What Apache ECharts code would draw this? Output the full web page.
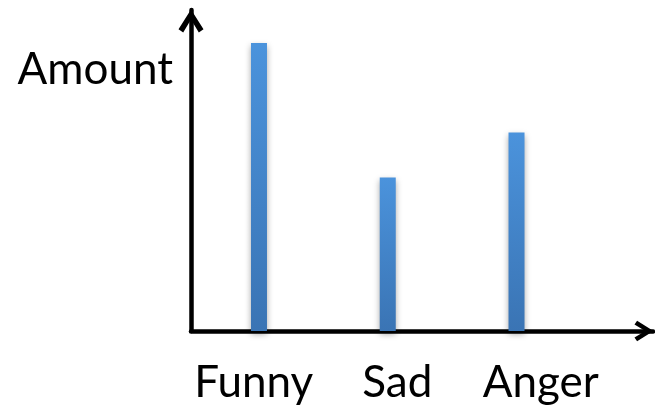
<!DOCTYPE html>
<html>
<head>
<meta charset="utf-8">
<script src="https://cdn.jsdelivr.net/npm/echarts@6/dist/echarts.min.js"></script>
<style>
html,body{margin:0;padding:0;background:#fff;}
#chart{width:655px;height:414px;}
</style>
</head>
<body>
<div id="chart"></div>
<script>
// ---- data ----
var categories = ['Funny', 'Sad', 'Anger'];
var amounts = [9.0, 4.8, 6.2];
var yAxisName = 'Amount';
var yMax = 10;

// ---- chart ----
var FONT = 'Lato';
var chevron = 'path://M12,0 L24,19 L19.5,22 L12,9.5 L4.5,22 L0,19 Z';

var chart = echarts.init(document.getElementById('chart'), null, {renderer: 'canvas'});
chart.setOption({
  backgroundColor: '#ffffff',
  animation: false,
  grid: [
    // frame with arrow axes
    {left: 191, right: 2, top: 10, bottom: 83},
    // bars
    {left: 194.6, right: 74.1, top: 11, bottom: 83},
    // category labels
    {left: 182, right: 42.5, top: 11, bottom: 83}
  ],
  xAxis: [
    {
      gridIndex: 0, type: 'value', min: 0, max: 1,
      axisLine: {show: true, lineStyle: {color: '#000', width: 4.5},
        symbol: ['none', chevron], symbolSize: [26, 19], symbolOffset: [0, -9]},
      axisTick: {show: false}, axisLabel: {show: false}, splitLine: {show: false}
    },
    {
      gridIndex: 1, type: 'category', data: categories,
      axisLine: {show: false}, axisTick: {show: false}, axisLabel: {show: false}
    },
    {
      gridIndex: 2, type: 'category', data: categories,
      axisLine: {show: false}, axisTick: {show: false},
      axisLabel: {show: true, interval: 0, hideOverlap: false, color: '#000', fontFamily: FONT, fontSize: 44, margin: 30}
    }
  ],
  yAxis: [
    {
      gridIndex: 0, type: 'value', min: 0, max: 1,
      name: yAxisName, nameLocation: 'end', nameGap: -60,
      nameTextStyle: {color: '#000', fontFamily: FONT, fontSize: 44,
        align: 'right', verticalAlign: 'middle', padding: [0, 18, 0, 0]},
      axisLine: {show: true, lineStyle: {color: '#000', width: 4.5},
        symbol: ['none', chevron], symbolSize: [25, 23], symbolOffset: [0, -11]},
      axisTick: {show: false}, axisLabel: {show: false}, splitLine: {show: false}
    },
    {
      gridIndex: 1, type: 'value', min: 0, max: yMax,
      axisLine: {show: false}, axisTick: {show: false}, axisLabel: {show: false}, splitLine: {show: false}
    },
    {
      gridIndex: 2, type: 'value', min: 0, max: 1, show: false
    }
  ],
  series: [{
    type: 'bar',
    xAxisIndex: 1, yAxisIndex: 1,
    data: amounts,
    barWidth: 16,
    z: 5,
    itemStyle: {
      color: new echarts.graphic.LinearGradient(0, 0, 0, 1, [
        {offset: 0, color: '#4B93DC'},
        {offset: 1, color: '#3A74B4'}
      ]),
      shadowColor: 'rgba(0,0,0,0.35)',
      shadowBlur: 6,
      shadowOffsetY: 3
    }
  }]
});
</script>
</body>
</html>
